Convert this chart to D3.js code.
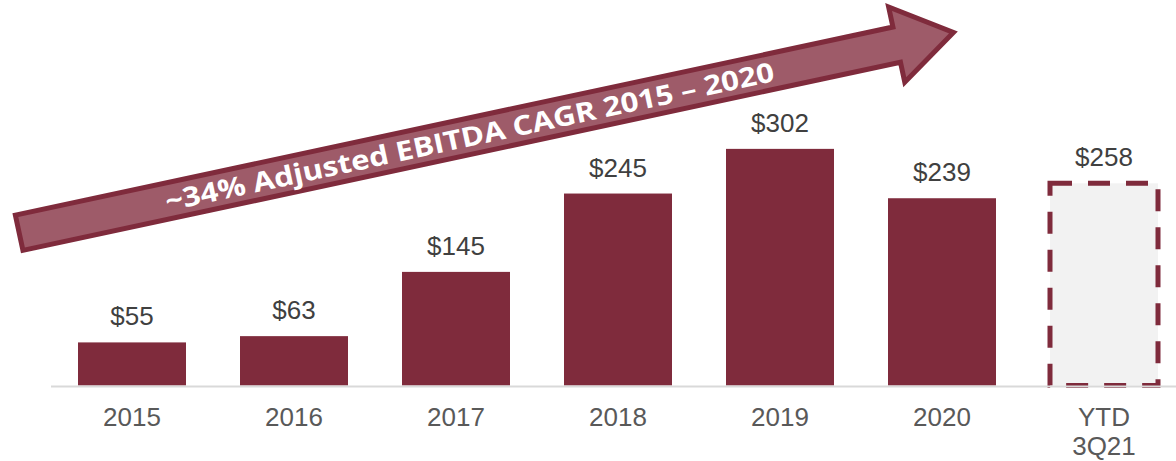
<!DOCTYPE html>
<html>
<head>
<meta charset="utf-8">
<script src="https://cdn.jsdelivr.net/npm/d3@7"></script>
<style>
  html, body { margin: 0; padding: 0; background: #ffffff; }
  svg { display: block; }
</style>
</head>
<body>
<svg id="chart" width="1176" height="461"></svg>
<script>
const categories = ["2015", "2016", "2017", "2018", "2019", "2020", "YTD\n3Q21"];
const values = [55, 63, 145, 245, 302, 239, 258];
const valueLabels = ["$55", "$63", "$145", "$245", "$302", "$239", "$258"];
const projected = [false, false, false, false, false, false, true];
const arrowText = "~34% Adjusted EBITDA CAGR 2015 – 2020";

const svg = d3.select("#chart");
const W = 1176, H = 461;
const baseY = 385.5;

const x = d3.scaleBand()
  .domain(categories)
  .range([51, 51 + 162 * categories.length])
  .paddingInner(1 / 3)
  .paddingOuter(1 / 6);

const y = d3.scaleLinear().domain([0, 492]).range([baseY, 0]);

const barColor = "#7f2b3c";

// bars
svg.append("g").selectAll("rect")
  .data(categories.map((c, i) => ({ c, v: values[i], p: projected[i], l: valueLabels[i] })))
  .join("rect")
  .attr("x", d => x(d.c))
  .attr("width", x.bandwidth())
  .attr("y", d => y(d.v))
  .attr("height", d => baseY - y(d.v))
  .attr("fill", d => d.p ? "#f2f2f2" : barColor)
  .attr("stroke", d => d.p ? barColor : "none")
  .attr("stroke-width", d => d.p ? 5 : 0)
  .attr("stroke-dasharray", d => d.p ? "22,16" : null);

// axis baseline
svg.append("line")
  .attr("x1", 51).attr("x2", W)
  .attr("y1", baseY + 1).attr("y2", baseY + 1)
  .attr("stroke", "#d9d9d9").attr("stroke-width", 2);

// value labels
svg.append("g").selectAll("text")
  .data(categories.map((c, i) => ({ c, v: values[i], l: valueLabels[i] })))
  .join("text")
  .attr("x", d => x(d.c) + x.bandwidth() / 2)
  .attr("y", d => y(d.v) - 17)
  .attr("text-anchor", "middle")
  .attr("font-family", "'Liberation Sans', Arial, sans-serif")
  .attr("font-size", 26)
  .attr("fill", "#404040")
  .text(d => d.l);

// category labels
const cat = svg.append("g").selectAll("text")
  .data(categories)
  .join("text")
  .attr("x", d => x(d) + x.bandwidth() / 2)
  .attr("y", 426)
  .attr("text-anchor", "middle")
  .attr("font-family", "'Liberation Sans', Arial, sans-serif")
  .attr("font-size", 26)
  .attr("fill", "#595959");
cat.each(function (d) {
  const lines = d.split("\n");
  const t = d3.select(this);
  lines.forEach((ln, k) => {
    t.append("tspan")
      .attr("x", x(d) + x.bandwidth() / 2)
      .attr("dy", k === 0 ? 0 : 29)
      .text(ln);
  });
});

// CAGR arrow
const ox = 16.7, oy = 233.3, ang = -12.1;
const ag = svg.append("g").attr("transform", `translate(${ox},${oy}) rotate(${ang})`);
const shaftEnd = 900, sh = 18, hh = 38.5, tip = 958;
const pts = [[2.5, -sh], [shaftEnd, -sh], [shaftEnd, -hh], [tip, 0], [shaftEnd, hh], [shaftEnd, sh], [2.5, sh]];
ag.append("path")
  .attr("d", d3.line()(pts) + "Z")
  .attr("fill", "#9e5b69")
  .attr("stroke", "#7f2b3c")
  .attr("stroke-width", 5)
  .attr("stroke-linejoin", "miter");
ag.append("text")
  .attr("x", 463)
  .attr("y", 10)
  .attr("text-anchor", "middle")
  .attr("font-family", "'Open Sans', Lato, sans-serif")
  .attr("font-weight", 700)
  .attr("font-size", 27)
  .attr("fill", "#ffffff")
  .attr("textLength", 622)
  .attr("lengthAdjust", "spacingAndGlyphs")
  .text(arrowText);
</script>
</body>
</html>
